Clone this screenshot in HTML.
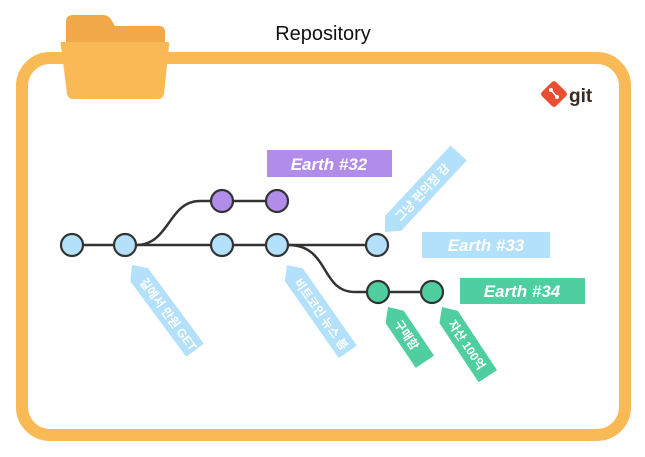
<!DOCTYPE html>
<html><head><meta charset="utf-8"><style>
html,body{margin:0;padding:0;background:#fff;}
svg{display:block;}
text{font-family:"Liberation Sans","Noto Sans CJK KR",sans-serif;}
</style></head><body>
<svg width="645" height="457" viewBox="0 0 645 457" xmlns="http://www.w3.org/2000/svg">
<rect x="22" y="58" width="603" height="377" rx="28" fill="none" stroke="#F9B955" stroke-width="12"/>
<!-- folder -->
<path d="M66,22 q0,-7 7,-7 h10 l20,0 q6,0 9,6 l3,5 h44 q6,0 6,6 v20 h-99z" fill="#F0A848"/>
<path d="M61,42 h107 q2,0 1,4 l-5,48 q-1,5 -6,5 h-85 q-5,0 -6,-5 l-6,-48 q-1,-4 0,-4z" fill="#F9B955"/>
<text x="323" y="40" font-size="20" text-anchor="middle" fill="#111">Repository</text>
<!-- git logo -->
<g transform="translate(554,94) rotate(45)"><rect x="-10" y="-10" width="20" height="20" rx="3" fill="#E84E31"/></g>
<circle cx="551" cy="90" r="2" fill="#fff"/><circle cx="557" cy="97" r="2" fill="#fff"/><line x1="551" y1="90" x2="557" y2="97" stroke="#fff" stroke-width="1.5"/>
<text x="569" y="102" font-size="19" font-weight="bold" fill="#3a2a22">git</text>
<!-- lines -->
<g stroke="#333" stroke-width="2.5" fill="none">
<line x1="72" y1="245" x2="377" y2="245"/>
<path d="M136,245 C170,245 168,201 200,201 L277,201"/>
<path d="M288,245 C330,245 320,292 355,292 L432,292"/>
</g>
<g stroke="#333" stroke-width="2.2">
<circle cx="72" cy="245" r="11" fill="#B3E0FB"/>
<circle cx="125" cy="245" r="11" fill="#B3E0FB"/>
<circle cx="222" cy="245" r="11" fill="#B3E0FB"/>
<circle cx="277" cy="245" r="11" fill="#B3E0FB"/>
<circle cx="377" cy="245" r="11" fill="#B3E0FB"/>
<circle cx="222" cy="201" r="11" fill="#B18CE8"/>
<circle cx="277" cy="201" r="11" fill="#B18CE8"/>
<circle cx="378" cy="292" r="11" fill="#4FCF9F"/>
<circle cx="432" cy="292" r="11" fill="#4FCF9F"/>
</g>
<!-- labels -->
<rect x="267" y="150" width="125" height="27" fill="#B18CE8"/>
<text x="329" y="170" font-size="17" font-weight="bold" font-style="italic" fill="#fff" text-anchor="middle">Earth #32</text>
<rect x="422" y="232" width="128" height="26" fill="#B3E0FB"/>
<text x="486" y="251" font-size="17" font-weight="bold" font-style="italic" fill="#fff" text-anchor="middle">Earth #33</text>
<rect x="460" y="278" width="125" height="26" fill="#4FCF9F"/>
<text x="522" y="297" font-size="17" font-weight="bold" font-style="italic" fill="#fff" text-anchor="middle">Earth #34</text>
<!-- tags -->
<g transform="translate(132,265) rotate(53.5)">
<polygon points="0,0 12,-11 106,-11 106,11 12,11" fill="#B3E0FB"/>
<text x="18" y="4.5" font-size="12" font-weight="bold" fill="#fff">길에서 만원 GET</text></g>
<g transform="translate(287,265) rotate(55)">
<polygon points="0,0 12,-11 106,-11 106,11 12,11" fill="#B3E0FB"/>
<text x="18" y="4.5" font-size="12" font-weight="bold" fill="#fff">비트코인 뉴스 봄</text></g>
<g transform="translate(385,232) rotate(-47)">
<polygon points="0,0 12,-11 108,-11 108,11 12,11" fill="#B3E0FB"/>
<text x="18" y="4.5" font-size="12" font-weight="bold" fill="#fff">그냥 편의점 감</text></g>
<g transform="translate(388,307) rotate(56)">
<polygon points="0,0 12,-11 66,-11 66,11 12,11" fill="#4FCF9F"/>
<text x="17" y="4.5" font-size="12" font-weight="bold" fill="#fff">구매함</text></g>
<g transform="translate(442,307) rotate(56.5)">
<polygon points="0,0 12,-11 83,-11 83,11 12,11" fill="#4FCF9F"/>
<text x="17" y="4.5" font-size="12" font-weight="bold" fill="#fff">자산 100억</text></g>
</svg>
</body></html>
